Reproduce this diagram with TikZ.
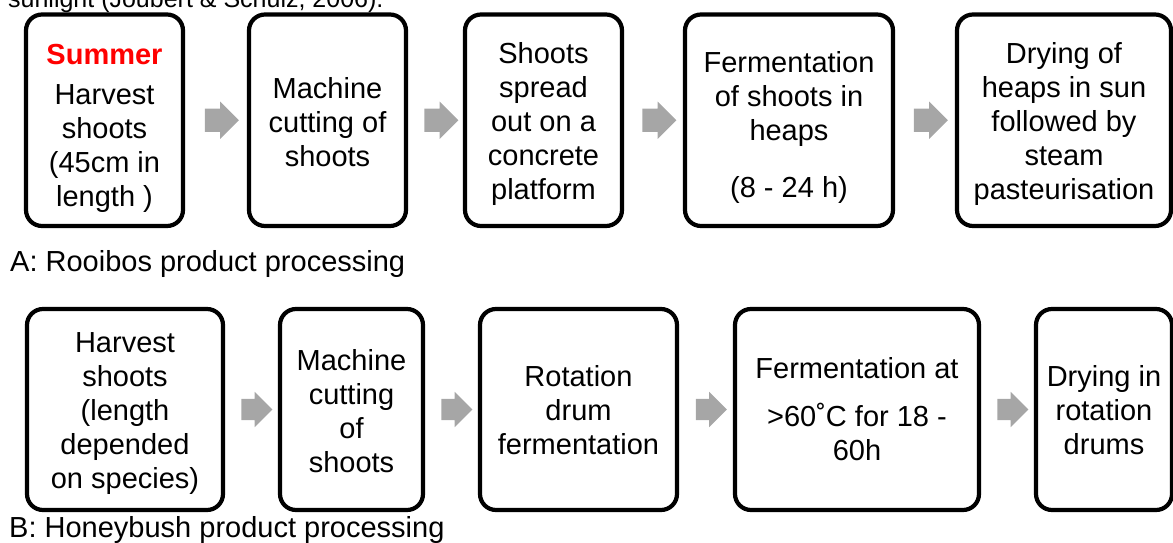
\documentclass[tikz,border=0pt]{standalone}
\usepackage{fontspec}
\setmainfont{Liberation Sans}
\usetikzlibrary{shapes.arrows,calc}
\definecolor{arrowgray}{HTML}{A6A6A6}
\definecolor{summerred}{HTML}{FF0000}
% invisible strut on the first line: lowers a centred text block by #1 pt
\newcommand\lowerby[1]{\rule{0pt}{\dimexpr 21pt+#1pt+#1pt\relax}}
\begin{document}
\begin{tikzpicture}[x=1pt,y=-1pt,
  stepbox/.style={draw=black, line width=4.2pt, rounded corners=16pt,
    inner sep=0pt, align=center, font=\fontsize{29}{34}\selectfont},
  toprow/.style={stepbox, minimum height=211.5pt},
  botrow/.style={stepbox, minimum height=201pt},
  flow/.style={single arrow, fill=arrowgray, draw=none, inner xsep=0pt,
    single arrow tip angle=90, single arrow head extend=7pt},
  flowtop/.style={flow, inner ysep=11.5pt, minimum height=34pt},
  flowbot/.style={flow, inner ysep=10.5pt, minimum height=31pt},
  caption/.style={anchor=base west, inner sep=0pt, font=\fontsize{29}{34}\selectfont}
]
\useasboundingbox (0,0) rectangle (1173,543);
\clip (0,0) rectangle (1173,543);

% sentence running in from above
\node[anchor=base west, inner sep=0pt, font=\fontsize{25}{30}\selectfont] (prev) at (8,8)
  {sunlight (Joubert \& Schulz, 2006).};

% A: Rooibos
\node[toprow, minimum width=157pt] (a1) at (104.5,120.25)
  {\lowerby{8}\textcolor{summerred}{\bfseries Summer}\\[6pt]Harvest\\shoots\\(45cm in\\length )};
\node[toprow, minimum width=157pt] (a2) at (327.5,120.25)
  {\lowerby{1.5}Machine\\cutting of\\shoots};
\node[toprow, minimum width=157pt] (a3) at (543.5,120.25)
  {\lowerby{4}Shoots\\spread\\out on a\\concrete\\platform};
\node[toprow, minimum width=208pt] (a4) at (789,120.25)
  {\lowerby{7.5}Fermentation\\of shoots in\\heaps\\[23pt](8 - 24 h)};
\node[toprow, minimum width=214pt] (a5) at (1064,120.25)
  {\lowerby{4}Drying of\\heaps in sun\\followed by\\steam\\pasteurisation};

\node[flowtop] (fa12) at ($(a1.east)!0.5!(a2.west)$) {};
\node[flowtop] (fa23) at ($(a2.east)!0.5!(a3.west)$) {};
\node[flowtop] (fa34) at ($(a3.east)!0.5!(a4.west)$) {};
\node[flowtop] (fa45) at ($(a4.east)!0.5!(a5.west)$) {};

\node[caption] (capa) at (10,271.7) {A: Rooibos product processing};

% B: Honeybush
\node[botrow, minimum width=196pt] (b1) at (125,409.5)
  {\lowerby{3.5}Harvest\\shoots\\(length\\depended\\on species)};
\node[botrow, minimum width=143pt] (b2) at (351.5,409.5)
  {\lowerby{1.5}Machine\\cutting\\of\\shoots};
\node[botrow, minimum width=197pt] (b3) at (578.5,409.5)
  {\lowerby{1}Rotation\\drum\\fermentation};
\node[botrow, minimum width=244pt] (b4) at (857,409.5)
  {Fermentation at\\[14pt]>60˚C for 18 -\\60h};
\node[botrow, minimum width=136pt] (b5) at (1104,409.5)
  {\lowerby{1}Drying in\\rotation\\drums};

\node[flowbot] (fb12) at ($(b1.east)!0.5!(b2.west)$) {};
\node[flowbot] (fb23) at ($(b2.east)!0.5!(b3.west)$) {};
\node[flowbot] (fb34) at ($(b3.east)!0.5!(b4.west)$) {};
\node[flowbot] (fb45) at ($(b4.east)!0.5!(b5.west)$) {};

\node[caption] (capb) at (9,537) {B: Honeybush product processing};
\end{tikzpicture}
\end{document}
